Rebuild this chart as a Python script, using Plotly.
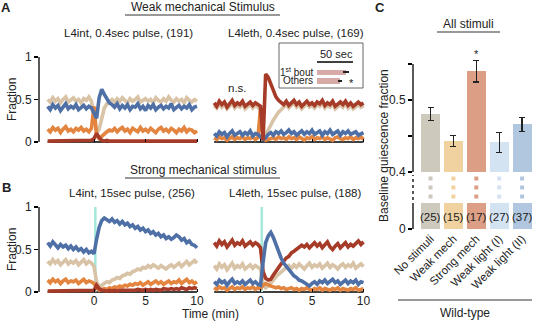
import plotly.graph_objects as go

W, H = 538, 323


def px(x):
    return x / W


def py(y):
    return 1 - y / H


# ---------------- data: time courses (fraction of animals per state) ----------------
TIME_MIN = [-4.5, -4.25, -4.0, -3.75, -3.5, -3.25, -3.0, -2.75, -2.5, -2.25,
            -2.0, -1.75, -1.5, -1.25, -1.0, -0.75, -0.5, -0.25, 0.0, 0.25,
            0.5, 0.75, 1.0, 1.25, 1.5, 1.75, 2.0, 2.25, 2.5, 2.75,
            3.0, 3.25, 3.5, 3.75, 4.0, 4.25, 4.5, 4.75, 5.0, 5.25,
            5.5, 5.75, 6.0, 6.25, 6.5, 6.75, 7.0, 7.25, 7.5, 7.75,
            8.0, 8.25, 8.5, 8.75, 9.0, 9.25, 9.5, 9.75, 10.0]

# Panel A left: L4int, 0.4 sec pulse
A1_BLUE = [0.42, 0.38, 0.44, 0.40, 0.43, 0.37, 0.41, 0.45, 0.39, 0.42,
           0.40, 0.44, 0.38, 0.41, 0.43, 0.39, 0.42, 0.40, 0.34, 0.28,
           0.52, 0.62, 0.56, 0.50, 0.46, 0.44, 0.41, 0.45, 0.39, 0.43,
           0.40, 0.44, 0.38, 0.42, 0.41, 0.45, 0.39, 0.42, 0.37, 0.43,
           0.40, 0.44, 0.38, 0.41, 0.43, 0.39, 0.42, 0.40, 0.45, 0.38,
           0.41, 0.43, 0.39, 0.42, 0.40, 0.44, 0.38, 0.41, 0.42]
A1_TAN = [0.50, 0.47, 0.52, 0.48, 0.51, 0.46, 0.50, 0.53, 0.47, 0.49,
          0.52, 0.48, 0.50, 0.46, 0.51, 0.49, 0.53, 0.48, 0.30, 0.10,
          0.15, 0.30, 0.40, 0.45, 0.48, 0.50, 0.47, 0.51, 0.48, 0.52,
          0.49, 0.46, 0.51, 0.48, 0.50, 0.53, 0.47, 0.49, 0.51, 0.48,
          0.50, 0.46, 0.52, 0.49, 0.47, 0.51, 0.48, 0.53, 0.49, 0.47,
          0.51, 0.48, 0.50, 0.46, 0.52, 0.49, 0.47, 0.50, 0.48]
A1_ORANGE = [0.15, 0.12, 0.17, 0.14, 0.16, 0.11, 0.15, 0.18, 0.13, 0.15,
             0.12, 0.16, 0.14, 0.17, 0.13, 0.15, 0.12, 0.16, 0.42, 0.08,
             0.04, 0.07, 0.10, 0.12, 0.14, 0.13, 0.16, 0.12, 0.15, 0.17,
             0.13, 0.15, 0.11, 0.16, 0.14, 0.12, 0.17, 0.13, 0.15, 0.12,
             0.16, 0.14, 0.11, 0.15, 0.17, 0.13, 0.15, 0.12, 0.16, 0.14,
             0.11, 0.15, 0.13, 0.17, 0.12, 0.15, 0.14, 0.11, 0.13]
A1_RED = [0.01, 0.01, 0.02, 0.01, 0.01, 0.02, 0.01, 0.01, 0.02, 0.01,
          0.01, 0.02, 0.01, 0.01, 0.02, 0.01, 0.01, 0.02, 0.04, 0.10,
          0.05, 0.02, 0.01, 0.02, 0.01, 0.01, 0.02, 0.01, 0.01, 0.02,
          0.01, 0.01, 0.02, 0.01, 0.01, 0.02, 0.01, 0.01, 0.02, 0.01,
          0.02, 0.01, 0.01, 0.02, 0.01, 0.01, 0.02, 0.01, 0.01, 0.02,
          0.01, 0.01, 0.02, 0.01, 0.02, 0.01, 0.02, 0.02, 0.01]

# Panel A right: L4leth, 0.4 sec pulse
A2_RED = [0.46, 0.42, 0.48, 0.44, 0.47, 0.41, 0.45, 0.49, 0.43, 0.46,
          0.44, 0.48, 0.42, 0.45, 0.47, 0.43, 0.46, 0.44, 0.42, 0.02,
          0.80, 0.76, 0.68, 0.60, 0.53, 0.49, 0.46, 0.44, 0.48, 0.43,
          0.46, 0.49, 0.44, 0.47, 0.42, 0.45, 0.48, 0.44, 0.46, 0.43,
          0.47, 0.45, 0.49, 0.43, 0.46, 0.44, 0.48, 0.42, 0.45, 0.47,
          0.44, 0.48, 0.43, 0.46, 0.42, 0.45, 0.47, 0.44, 0.46]
A2_TAN = [0.43, 0.40, 0.45, 0.41, 0.44, 0.39, 0.42, 0.46, 0.40, 0.43,
          0.41, 0.45, 0.39, 0.42, 0.44, 0.40, 0.43, 0.41, 0.38, 0.03,
          0.08, 0.14, 0.20, 0.26, 0.31, 0.35, 0.38, 0.41, 0.44, 0.40,
          0.43, 0.46, 0.41, 0.44, 0.39, 0.42, 0.45, 0.41, 0.43, 0.40,
          0.44, 0.42, 0.46, 0.40, 0.43, 0.41, 0.45, 0.39, 0.42, 0.44,
          0.41, 0.45, 0.40, 0.43, 0.39, 0.42, 0.44, 0.41, 0.43]
A2_BLUE = [0.10, 0.07, 0.12, 0.09, 0.11, 0.06, 0.10, 0.13, 0.08, 0.10,
           0.12, 0.08, 0.11, 0.09, 0.13, 0.07, 0.10, 0.09, 0.06, 0.03,
           0.05, 0.09, 0.11, 0.08, 0.12, 0.10, 0.13, 0.09, 0.11, 0.14,
           0.10, 0.12, 0.08, 0.11, 0.13, 0.09, 0.12, 0.10, 0.14, 0.09,
           0.11, 0.13, 0.08, 0.12, 0.10, 0.14, 0.09, 0.11, 0.13, 0.08,
           0.12, 0.10, 0.13, 0.09, 0.11, 0.12, 0.08, 0.10, 0.11]
A2_ORANGE = [0.05, 0.03, 0.06, 0.04, 0.05, 0.02, 0.04, 0.06, 0.03, 0.05,
             0.04, 0.06, 0.03, 0.05, 0.04, 0.06, 0.03, 0.05, 0.40, 0.05,
             0.02, 0.03, 0.04, 0.05, 0.03, 0.06, 0.04, 0.05, 0.03, 0.06,
             0.04, 0.05, 0.03, 0.06, 0.04, 0.02, 0.05, 0.04, 0.06, 0.03,
             0.05, 0.04, 0.06, 0.03, 0.05, 0.04, 0.02, 0.05, 0.06, 0.04,
             0.03, 0.05, 0.04, 0.06, 0.03, 0.05, 0.04, 0.06, 0.03]

# Panel B left: L4int, 15 sec pulse
B1_BLUE = [0.58, 0.54, 0.59, 0.55, 0.52, 0.56, 0.53, 0.55, 0.51, 0.54,
           0.50, 0.53, 0.49, 0.51, 0.47, 0.50, 0.46, 0.48, 0.45, 0.62,
           0.76, 0.84, 0.87, 0.85, 0.83, 0.86, 0.82, 0.84, 0.80, 0.83,
           0.79, 0.81, 0.77, 0.79, 0.75, 0.77, 0.73, 0.75, 0.71, 0.73,
           0.69, 0.71, 0.67, 0.69, 0.65, 0.67, 0.63, 0.65, 0.62, 0.64,
           0.67, 0.65, 0.61, 0.63, 0.58, 0.60, 0.56, 0.55, 0.52]
B1_TAN = [0.36, 0.33, 0.38, 0.34, 0.37, 0.32, 0.35, 0.38, 0.33, 0.36,
          0.34, 0.37, 0.32, 0.35, 0.38, 0.33, 0.36, 0.34, 0.30, 0.12,
          0.06, 0.08, 0.10, 0.12, 0.11, 0.14, 0.15, 0.17, 0.16, 0.19,
          0.20, 0.22, 0.21, 0.24, 0.25, 0.27, 0.26, 0.29, 0.28, 0.31,
          0.29, 0.32, 0.30, 0.28, 0.31, 0.29, 0.27, 0.30, 0.32, 0.29,
          0.31, 0.34, 0.30, 0.33, 0.36, 0.32, 0.35, 0.37, 0.34]
B1_ORANGE = [0.14, 0.11, 0.15, 0.12, 0.14, 0.10, 0.13, 0.15, 0.11, 0.13,
             0.12, 0.14, 0.10, 0.13, 0.15, 0.11, 0.13, 0.12, 0.10, 0.05,
             0.02, 0.03, 0.04, 0.03, 0.05, 0.04, 0.06, 0.05, 0.07, 0.06,
             0.08, 0.07, 0.09, 0.08, 0.10, 0.09, 0.11, 0.08, 0.10, 0.12,
             0.09, 0.11, 0.13, 0.10, 0.12, 0.09, 0.11, 0.13, 0.10, 0.12,
             0.11, 0.14, 0.10, 0.12, 0.15, 0.11, 0.13, 0.10, 0.12]
B1_RED = [0.01, 0.01, 0.02, 0.01, 0.01, 0.02, 0.01, 0.01, 0.02, 0.01,
          0.01, 0.02, 0.01, 0.01, 0.02, 0.01, 0.01, 0.02, 0.02, 0.08,
          0.04, 0.02, 0.01, 0.01, 0.02, 0.01, 0.02, 0.01, 0.02, 0.02,
          0.01, 0.02, 0.02, 0.01, 0.02, 0.03, 0.02, 0.02, 0.03, 0.02,
          0.03, 0.02, 0.03, 0.03, 0.02, 0.04, 0.03, 0.03, 0.04, 0.03,
          0.04, 0.03, 0.05, 0.04, 0.03, 0.05, 0.04, 0.05, 0.04]

# Panel B right: L4leth, 15 sec pulse
B2_RED = [0.58, 0.54, 0.60, 0.56, 0.59, 0.53, 0.57, 0.61, 0.55, 0.58,
          0.56, 0.60, 0.54, 0.57, 0.59, 0.55, 0.58, 0.56, 0.52, 0.24,
          0.16, 0.14, 0.15, 0.20, 0.25, 0.29, 0.33, 0.36, 0.40, 0.42,
          0.46, 0.48, 0.50, 0.52, 0.55, 0.53, 0.56, 0.52, 0.55, 0.58,
          0.54, 0.57, 0.52, 0.55, 0.59, 0.53, 0.50, 0.54, 0.57, 0.52,
          0.55, 0.58, 0.53, 0.56, 0.54, 0.57, 0.60, 0.56, 0.59]
B2_TAN = [0.31, 0.27, 0.33, 0.29, 0.32, 0.26, 0.30, 0.34, 0.28, 0.31,
          0.29, 0.33, 0.27, 0.30, 0.32, 0.28, 0.31, 0.29, 0.27, 0.10,
          0.05, 0.07, 0.10, 0.14, 0.18, 0.21, 0.24, 0.27, 0.29, 0.31,
          0.28, 0.32, 0.29, 0.33, 0.30, 0.27, 0.31, 0.34, 0.29, 0.32,
          0.30, 0.33, 0.28, 0.31, 0.34, 0.29, 0.32, 0.30, 0.27, 0.31,
          0.33, 0.29, 0.32, 0.30, 0.34, 0.28, 0.31, 0.33, 0.30]
B2_BLUE = [0.12, 0.09, 0.14, 0.11, 0.13, 0.08, 0.12, 0.15, 0.10, 0.12,
           0.10, 0.13, 0.09, 0.11, 0.14, 0.10, 0.12, 0.09, 0.08, 0.35,
           0.58, 0.66, 0.70, 0.64, 0.55, 0.46, 0.40, 0.34, 0.30, 0.26,
           0.22, 0.19, 0.17, 0.14, 0.13, 0.11, 0.09, 0.07, 0.10, 0.12,
           0.09, 0.13, 0.11, 0.14, 0.10, 0.12, 0.15, 0.11, 0.13, 0.09,
           0.12, 0.14, 0.10, 0.13, 0.11, 0.14, 0.09, 0.12, 0.11]
B2_ORANGE = [0.05, 0.03, 0.06, 0.04, 0.05, 0.02, 0.04, 0.06, 0.03, 0.05,
             0.04, 0.06, 0.03, 0.05, 0.04, 0.06, 0.03, 0.05, 0.04, 0.08,
             0.10, 0.08, 0.07, 0.06, 0.05, 0.06, 0.04, 0.05, 0.03, 0.04,
             0.05, 0.03, 0.04, 0.02, 0.04, 0.03, 0.05, 0.03, 0.02, 0.04,
             0.03, 0.05, 0.02, 0.04, 0.03, 0.02, 0.04, 0.03, 0.05, 0.02,
             0.04, 0.03, 0.02, 0.04, 0.03, 0.05, 0.02, 0.03, 0.04]

STIM_STRONG_MIN = [0.0, 0.25]  # 15 sec pulse
X_TICKS = [0, 5, 10]
Y_TICKS = [0, 0.5, 1]

# Inset: bout durations (sec)
BOUT_LABELS = ["1<sup>st</sup> bout", "Others"]
BOUT_SEC = [40, 32]
BOUT_ERR = [4, 3]
SCALE_SEC = 50

# Panel C: baseline quiescence fraction
C_LABELS = ["No stimuli", "Weak mech", "Strong mech", "Weak light (I)", "Weak light (II)"]
C_VALUES = [0.481, 0.443, 0.540, 0.441, 0.466]
C_ERR = [0.009, 0.008, 0.015, 0.014, 0.010]
C_N = [25, 15, 17, 27, 37]
C_COLORS = ["#cdc9bd", "#f0d2a0", "#dc9f85", "#d4e3f1", "#b0c7df"]

# ---------------- styling ----------------
FONT = "Arial, Liberation Sans, Helvetica, sans-serif"
COL = {"tan": "#d9c3a6", "orange": "#e3843f", "blue": "#4e70a6", "red": "#a63b28"}
TXT = "#222222"

fig = go.Figure()

panels = [
    ("x", "y", [("tan", A1_TAN), ("orange", A1_ORANGE), ("blue", A1_BLUE), ("red", A1_RED)]),
    ("x2", "y2", [("tan", A2_TAN), ("orange", A2_ORANGE), ("blue", A2_BLUE), ("red", A2_RED)]),
    ("x3", "y3", [("tan", B1_TAN), ("orange", B1_ORANGE), ("red", B1_RED), ("blue", B1_BLUE)]),
    ("x4", "y4", [("tan", B2_TAN), ("orange", B2_ORANGE), ("red", B2_RED), ("blue", B2_BLUE)]),
]
for xa, ya, series in panels:
    for cname, vals in series:
        fig.add_trace(go.Scatter(x=TIME_MIN, y=vals, mode="lines", xaxis=xa, yaxis=ya,
                                 line=dict(color=COL[cname], width=3.6), hoverinfo="skip",
                                 showlegend=False))

# inset bars (y positions: 1 = first bout, 0 = others)
BOUT_Y = [1, 0]
fig.add_trace(go.Bar(x=BOUT_SEC, y=BOUT_Y, orientation="h", xaxis="x8", yaxis="y8",
                     marker=dict(color="#d6aaa7", line=dict(width=0)), width=0.62,
                     error_x=dict(type="data", array=BOUT_ERR, color="#222", thickness=1.5, width=0),
                     showlegend=False, hoverinfo="skip"))

# Panel C bars (upper and lower part of the broken axis)
cx = list(range(len(C_LABELS)))
fig.add_trace(go.Bar(x=cx, y=C_VALUES, xaxis="x5", yaxis="y5", width=0.83,
                     marker=dict(color=C_COLORS, line=dict(width=0)),
                     error_y=dict(type="data", array=C_ERR, color="#222", thickness=1.3, width=3),
                     showlegend=False, hoverinfo="skip"))
fig.add_trace(go.Bar(x=cx, y=C_VALUES, xaxis="x6", yaxis="y6", width=0.83,
                     marker=dict(color=C_COLORS, line=dict(width=0)),
                     showlegend=False, hoverinfo="skip"))
# break squares
sq_x, sq_y, sq_c = [], [], []
for i, c in enumerate(C_COLORS):
    for r in (0.5, 1.5, 2.5):
        sq_x.append(i)
        sq_y.append(r)
        sq_c.append(c)
fig.add_trace(go.Scatter(x=sq_x, y=sq_y, mode="markers", xaxis="x7", yaxis="y7",
                         marker=dict(symbol="square", size=4, color=sq_c, line=dict(width=0)),
                         showlegend=False, hoverinfo="skip"))

# ---------------- axes ----------------
XR = [-5.34, 10.29]
YR = [-0.04, 1.0]
dom_left = [px(39), px(200)]
dom_right = [px(205.5), px(366.5)]
dom_A = [py(145.4), py(57)]
dom_B = [py(295.4), py(207)]

tfont = dict(family=FONT, size=12, color=TXT)


def xax(dom, pos, labels):
    return dict(domain=dom, range=XR, anchor="free", position=pos, showgrid=False,
                zeroline=False, showline=False, ticks="inside", ticklen=3, tickwidth=1,
                tickcolor="black", tickvals=X_TICKS, showticklabels=labels, tickfont=tfont,
                fixedrange=True, automargin=False)


def yax(dom, anchor, labels):
    return dict(domain=dom, range=YR, anchor=anchor, showgrid=False, zeroline=False,
                showline=False, ticks="outside" if labels else "", ticklen=4, tickwidth=1.2,
                tickcolor="black", tickvals=Y_TICKS, ticktext=["0", "0.5", "1"],
                showticklabels=labels, tickfont=tfont, fixedrange=True, automargin=False)


cdom_x = [px(413), px(534)]
CXR = [-0.764, 4.52]

fig.update_layout(
    width=W, height=H, margin=dict(l=0, r=0, t=0, b=0, pad=0, autoexpand=False),
    autosize=False, template="none",
    paper_bgcolor="white", plot_bgcolor="rgba(0,0,0,0)",
    font=dict(family=FONT, size=12, color=TXT), bargap=0,
    xaxis=xax(dom_left, py(142), False), yaxis=yax(dom_A, "x", True),
    xaxis2=xax(dom_right, py(142), False), yaxis2=yax(dom_A, "x2", False),
    xaxis3=xax(dom_left, py(292), True), yaxis3=yax(dom_B, "x3", True),
    xaxis4=xax(dom_right, py(292), True), yaxis4=yax(dom_B, "x4", False),
    xaxis5=dict(domain=cdom_x, range=CXR, anchor="y5", visible=False, fixedrange=True),
    yaxis5=dict(domain=[py(172), py(53)], range=[0.4, 0.5653], anchor="x5", showgrid=False,
                zeroline=False, showline=False, ticks="outside", ticklen=4, tickwidth=1.2,
                tickcolor="black", tickvals=[0.4, 0.5], ticktext=["0.4", "0.5"],
                minor=dict(ticks="outside", tickvals=[0.45, 0.55], ticklen=4, tickwidth=1.2,
                           tickcolor="black", showgrid=False),
                tickfont=tfont, fixedrange=True, automargin=False),
    xaxis6=dict(domain=cdom_x, range=CXR, anchor="y6", showgrid=False, zeroline=False,
                showline=False, ticks="", tickvals=cx, ticktext=C_LABELS, tickangle=-45,
                tickfont=dict(family=FONT, size=11.5, color=TXT), fixedrange=True,
                automargin=False),
    yaxis6=dict(domain=[py(229), py(203)], range=[0, 0.035], anchor="x6", showgrid=False,
                zeroline=False, showline=False, ticks="outside", ticklen=4, tickwidth=1.2,
                tickcolor="black", tickvals=[0], ticktext=["0"], tickfont=tfont,
                fixedrange=True, automargin=False),
    xaxis7=dict(domain=cdom_x, range=CXR, anchor="y7", visible=False, fixedrange=True),
    yaxis7=dict(domain=[py(201), py(174)], range=[0, 3], anchor="x7", visible=False,
                fixedrange=True),
    xaxis8=dict(domain=[px(317), px(362)], range=[0, 62.5], anchor="y8", visible=False,
                fixedrange=True),
    yaxis8=dict(domain=[py(86), py(67)], range=[-0.6, 1.6], anchor="x8", visible=False,
                fixedrange=True),
)

shapes = []
line_k = dict(color="black", width=1.3)
for xa, ya in (("x", "y"), ("x2", "y2"), ("x3", "y3"), ("x4", "y4")):
    shapes.append(dict(type="line", xref=xa, yref=ya, x0=TIME_MIN[0], x1=TIME_MIN[-1],
                       y0=0, y1=0, line=line_k, layer="below"))
for ya, xa in (("y", "x"), ("y3", "x3")):
    shapes.append(dict(type="line", xref=xa + " domain", yref=ya, x0=0, x1=0, y0=0, y1=1,
                       line=line_k))
for xa, ya in (("x3", "y3"), ("x4", "y4")):
    shapes.append(dict(type="rect", xref=xa, yref=ya, x0=STIM_STRONG_MIN[0],
                       x1=STIM_STRONG_MIN[1], y0=0, y1=1, fillcolor="#a6e8dc",
                       line=dict(width=0), layer="below"))
# panel C spines
shapes.append(dict(type="line", xref="x5 domain", yref="y5", x0=0, x1=0, y0=0.4, y1=0.55,
                   line=line_k))
shapes.append(dict(type="line", xref="x6 domain", yref="paper", x0=0, x1=0, y0=py(229),
                   y1=py(203), line=line_k))
shapes.append(dict(type="line", xref="paper", yref="paper", x0=px(413), x1=px(413),
                   y0=py(200), y1=py(175), line=dict(color="black", width=1.3, dash="dot")))
# title underlines
for x0, x1, yy in ((125, 280, 15), (125, 280, 178), (437, 500, 32), (398, 532, 300)):
    shapes.append(dict(type="line", xref="paper", yref="paper", x0=px(x0), x1=px(x1),
                       y0=py(yy), y1=py(yy), line=dict(color="#333", width=1)))
# inset box and scale bar
shapes.append(dict(type="rect", xref="paper", yref="paper", x0=px(279), x1=px(363),
                   y0=py(88), y1=py(43), line=dict(color="#666", width=1),
                   fillcolor="white", layer="below"))
shapes.append(dict(type="line", xref="x8", yref="paper", x0=0, x1=SCALE_SEC, y0=py(62),
                   y1=py(62), line=dict(color="black", width=1.5)))
fig.update_layout(shapes=shapes)


def ann(text, x, y, size=12, bold=False, angle=0, xanchor="center", **kw):
    d = dict(text=f"<b>{text}</b>" if bold else text, x=px(x), y=py(y), xref="paper",
             yref="paper", showarrow=False, xanchor=xanchor, yanchor="middle",
             textangle=angle, font=dict(family=FONT, size=size, color=TXT))
    d.update(kw)
    return d


anns = [
    ann("A", 6, 8, 13, True),
    ann("B", 6, 188, 13, True),
    ann("C", 380, 8, 13, True),
    ann("Weak mechanical Stimulus", 203, 7),
    ann("L4int, 0.4sec pulse, (191)", 128, 33, 11.5),
    ann("L4leth, 0.4sec pulse, (169)", 296, 33, 11.5),
    ann("Strong mechanical stimulus", 203, 170),
    ann("L4int, 15sec pulse, (256)", 132, 193, 11.5),
    ann("L4leth, 15sec pulse, (188)", 295, 193, 11.5),
    ann("Fraction", 12, 100, 12, angle=-90),
    ann("Fraction", 12, 250, 12, angle=-90),
    ann("Time (min)", 210, 314, 12),
    ann("n.s.", 237, 88, 11.5),
    ann("50 sec", 336, 54, 11),
    ann("All stimuli", 468, 24, 12),
    ann("Wild-type", 465, 313, 12),
    ann("Baseline quiescence fraction", 384, 146, 12, angle=-90),
]
# inset row labels
for lab, yv in zip(BOUT_LABELS, BOUT_Y):
    anns.append(dict(text=lab, x=px(315), y=yv, xref="paper", yref="y8", showarrow=False,
                     xanchor="right", yanchor="middle",
                     font=dict(family=FONT, size=10, color=TXT)))
# star over strong mech
anns.append(dict(text="*", x=2, y=C_VALUES[2] + C_ERR[2], xref="x5", yref="y5",
                 showarrow=False, yanchor="bottom", yshift=-2,
                 font=dict(family=FONT, size=11, color=TXT)))
# star for "Others"
anns.append(dict(text="*", x=BOUT_SEC[1] + BOUT_ERR[1], y=0, xref="x8", yref="y8",
                 showarrow=False, xanchor="left", xshift=5, yshift=-2,
                 font=dict(family=FONT, size=11, color=TXT)))
# n labels in lower bars
for i, n in enumerate(C_N):
    anns.append(dict(text=f"({n})", x=i, y=0.5, xref="x6", yref="y6 domain", showarrow=False,
                     yanchor="middle", yshift=-1, font=dict(family=FONT, size=11.5, color=TXT)))
fig.update_layout(annotations=anns)

fig.write_html("out.html", config={"displayModeBar": False, "staticPlot": True},
               post_script="document.body.style.margin='0';document.body.style.overflow='hidden';")
